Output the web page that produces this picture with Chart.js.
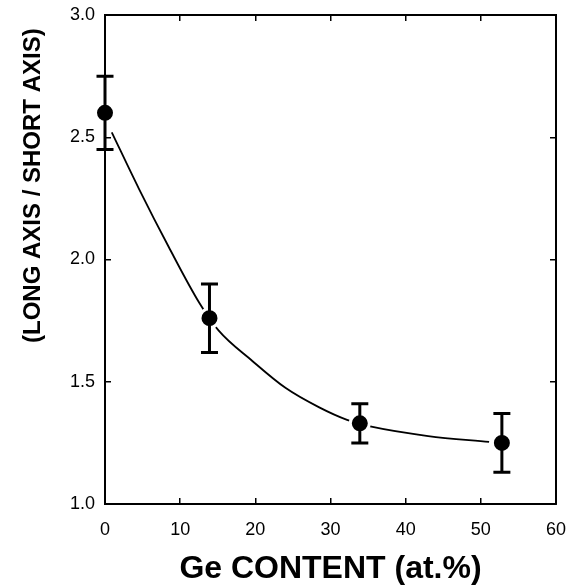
<!DOCTYPE html>
<html>
<head>
<meta charset="utf-8">
<script src="https://cdn.jsdelivr.net/npm/chart.js@4/dist/chart.umd.min.js"></script>
<style>
  body { margin: 0; background: #fff; }
</style>
</head>
<body>
<canvas id="ratio_chart" width="572" height="588"></canvas>
<script>
// measured points (Ge content vs long/short axis ratio)
const geContent = [0, 13.9, 33.9, 52.8];
const axisRatio = [2.60, 1.76, 1.33, 1.25];
const ratioError = [0.15, 0.14, 0.08, 0.12];

// fitted curve
const fitX = [0.9, 4.5, 8.5, 12.6, 15.1, 19.6, 24.0, 28.5, 32.2, 35.6, 43.0, 51.1];
const fitY = [2.52, 2.29, 2.05, 1.82, 1.71, 1.585, 1.475, 1.395, 1.344, 1.315, 1.278, 1.254];

// axes
const xMin = 0, xMax = 60, xStep = 10;
const yMin = 1.0, yMax = 3.0, yStep = 0.5;

Chart.defaults.font.family = "'Liberation Sans', Arial, Helvetica, sans-serif";
Chart.defaults.color = '#000';

// error bars drawn through the scales
const errorBars = {
  id: 'errorBars',
  afterDatasetsDraw(chart) {
    const {ctx, scales: {x, y}} = chart;
    ctx.save();
    ctx.strokeStyle = '#000';
    ctx.lineWidth = 3;
    geContent.forEach((g, i) => {
      const px = x.getPixelForValue(g);
      const top = y.getPixelForValue(axisRatio[i] + ratioError[i]);
      const bot = y.getPixelForValue(axisRatio[i] - ratioError[i]);
      ctx.beginPath();
      ctx.moveTo(px, top); ctx.lineTo(px, bot);
      ctx.moveTo(px - 8.5, top); ctx.lineTo(px + 8.5, top);
      ctx.moveTo(px - 8.5, bot); ctx.lineTo(px + 8.5, bot);
      ctx.stroke();
    });
    ctx.restore();
  }
};

function inwardGrid() {
  return { drawOnChartArea: false, tickLength: -6, color: '#000', lineWidth: 1.5 };
}

// fixed box sizes, no extra label overhang padding
function fixSize(w, h) {
  return function(s) {
    if (w !== null) s.width = w;
    if (h !== null) s.height = h;
    s.paddingTop = 0; s.paddingBottom = 0;
    s.paddingLeft = 0; s.paddingRight = 0;
  };
}

window.onload = function() {
  let context = document.querySelector('#ratio_chart').getContext('2d');
  new Chart(context, {
    type: 'scatter',
    data: {
      datasets: [{
        data: geContent.map((g, i) => ({x: g, y: axisRatio[i]})),
        pointRadius: 9.5,
        pointBackgroundColor: '#000',
        pointBorderColor: '#fff',
        pointBorderWidth: 3,
        clip: false,
        order: 0
      }, {
        data: fitX.map((g, i) => ({x: g, y: fitY[i]})),
        showLine: true,
        borderColor: '#000',
        borderWidth: 1.8,
        pointRadius: 0,
        cubicInterpolationMode: 'monotone',
        order: 1
      }]
    },
    options: {
      responsive: false,
      animation: false,
      layout: { padding: { top: 15, right: 16, left: 0, bottom: 0 } },
      plugins: { legend: { display: false }, tooltip: { enabled: false } },
      scales: {
        x: {
          type: 'linear', position: 'bottom', min: xMin, max: xMax,
          ticks: { stepSize: xStep, font: { size: 18 }, padding: 21 },
          grid: inwardGrid(),
          border: { color: '#000', width: 2 },
          title: { display: true, text: 'Ge CONTENT (at.%)', font: { size: 32, weight: 'bold' }, padding: { top: 2, bottom: 0 } },
          afterFit: fixSize(null, 84)
        },
        y: {
          type: 'linear', position: 'left', min: yMin, max: yMax,
          ticks: { stepSize: yStep, font: { size: 18 }, padding: 16, callback: v => v.toFixed(1) },
          grid: inwardGrid(),
          border: { color: '#000', width: 2 },
          title: { display: true, text: '(LONG AXIS / SHORT AXIS)  ', align: 'end', font: { size: 24, weight: 'bold' }, padding: { top: 19, bottom: 0 } },
          afterFit: fixSize(105, null)
        },
        x2: {
          type: 'linear', position: 'top', min: xMin, max: xMax,
          ticks: { stepSize: xStep, display: false },
          grid: inwardGrid(),
          border: { color: '#000', width: 2 },
          afterFit: fixSize(null, 0)
        },
        y2: {
          type: 'linear', position: 'right', min: yMin, max: yMax,
          ticks: { stepSize: yStep, display: false },
          grid: inwardGrid(),
          border: { color: '#000', width: 2 },
          afterFit: fixSize(0, null)
        }
      }
    },
    plugins: [errorBars]
  });
}
</script>
</body>
</html>
